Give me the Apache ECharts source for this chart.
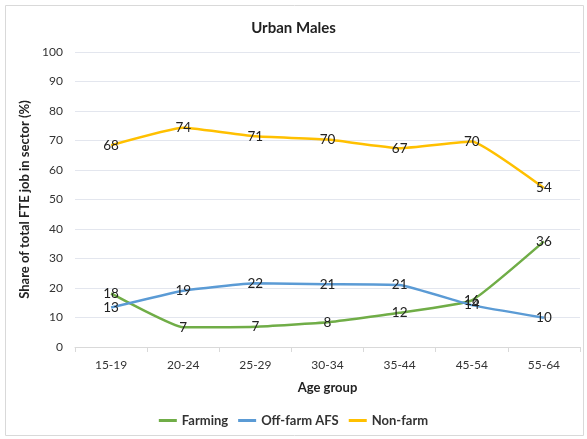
<!DOCTYPE html>
<html>
<head>
<meta charset="utf-8">
<script src="https://cdn.jsdelivr.net/npm/echarts@6/dist/echarts.min.js"></script>
<style>
  html, body { margin: 0; padding: 0; background: #fff; }
  #viz { width: 587px; height: 439px; }
</style>
</head>
<body>
<div id="viz"></div>
<script>
// age groups on the x axis
var ageGroups = ['15-19', '20-24', '25-29', '30-34', '35-44', '45-54', '55-64'];
// share of total FTE job in sector (%)
var farming = [18.2, 6.7, 6.9, 8.4, 11.6, 15.8, 35.8];
var offFarmAFS = [13.4, 19.1, 21.6, 21.3, 21.0, 14.2, 9.9];
var nonFarm = [68.4, 74.3, 71.4, 70.3, 67.4, 69.7, 53.9];
var yTicks = [0, 10, 20, 30, 40, 50, 60, 70, 80, 90, 100];

var font = 'Lato, "Open Sans", sans-serif';

function lineSeries(name, data, color) {
  return {
    name: name,
    type: 'line',
    data: data,
    smooth: 0.12,
    symbol: 'circle',
    symbolSize: 0,
    showSymbol: true,
    lineStyle: { color: color, width: 2.5 },
    itemStyle: { color: color },
    label: {
      show: true,
      position: 'inside',
      color: '#222',
      fontFamily: font,
      fontSize: 13.5,
      formatter: function (p) { return Math.round(p.value); }
    },
    labelLayout: { hideOverlap: false },
    emphasis: { disabled: true }
  };
}

var dom = document.getElementById('viz');
var myChart = echarts.init(dom);
var option = {
  animation: false,
  graphic: [{
    type: 'rect',
    shape: { x: 5.5, y: 5.5, width: 578, height: 430 },
    style: { fill: 'none', stroke: '#d9d9d9', lineWidth: 1 },
    silent: true
  }],
  title: {
    text: 'Urban Males',
    left: 'center',
    top: 16,
    textStyle: { fontFamily: font, fontSize: 15, fontWeight: 'bold', color: '#222' }
  },
  grid: { left: 75, right: 7, top: 52, bottom: 92, containLabel: false },
  legend: {
    bottom: 7,
    left: 'center',
    itemWidth: 18,
    itemHeight: 3,
    itemGap: 10,
    icon: 'rect',
    textStyle: { fontFamily: font, fontSize: 13, fontWeight: 'bold', color: '#333' },
    data: ['Farming', 'Off-farm AFS', 'Non-farm']
  },
  xAxis: {
    type: 'category',
    data: ageGroups,
    boundaryGap: true,
    name: 'Age group',
    nameLocation: 'middle',
    nameGap: 34,
    nameTextStyle: { fontFamily: font, fontSize: 13, fontWeight: 'bold', color: '#222' },
    axisLine: { lineStyle: { color: '#d9d9d9' } },
    axisTick: { show: true, length: 5, lineStyle: { color: '#d9d9d9' } },
    axisLabel: { fontFamily: font, fontSize: 12, color: '#333', margin: 12 }
  },
  yAxis: {
    type: 'value',
    min: yTicks[0],
    max: yTicks[yTicks.length - 1],
    interval: 10,
    name: 'Share of total FTE job in sector (%)',
    nameLocation: 'middle',
    nameGap: 40,
    nameTextStyle: { fontFamily: font, fontSize: 13, fontWeight: 'bold', color: '#222' },
    axisLine: { show: false },
    axisTick: { show: false },
    splitLine: { lineStyle: { color: '#e3e6ee' } },
    axisLabel: { fontFamily: font, fontSize: 12, color: '#333', margin: 12 }
  },
  series: [
    lineSeries('Farming', farming, '#70ad47'),
    lineSeries('Off-farm AFS', offFarmAFS, '#5b9bd5'),
    lineSeries('Non-farm', nonFarm, '#ffc000')
  ]
};
myChart.setOption(option, true);
</script>
</body>
</html>
